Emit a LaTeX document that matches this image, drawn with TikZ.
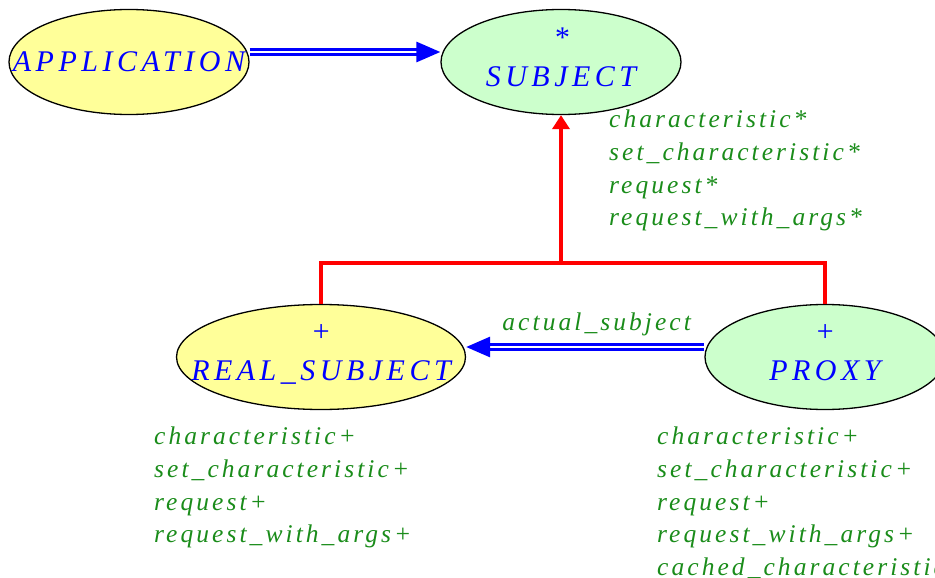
\documentclass[tikz,border=0pt]{standalone}
\usepackage{fontspec}
\setmainfont{Liberation Serif}
\newfontfamily\clsfont[LetterSpace=15]{Liberation Serif}
\newfontfamily\featfont[LetterSpace=12]{Liberation Serif}
\definecolor{deferred}{HTML}{CCFFCC}
\definecolor{effective}{HTML}{FFFF99}
\definecolor{featgreen}{HTML}{1A8C1A}
\usetikzlibrary{arrows.meta, shapes.geometric}

\begin{document}
\begin{tikzpicture}[x=1pt, y=-1pt,
  cls/.style={ellipse, draw=black, line width=1.3pt, inner sep=0pt},
  clsname/.style={text=blue, align=center, inner sep=0pt,
    font=\clsfont\itshape\fontsize{30}{39}\selectfont},
  feat/.style={text=featgreen, align=left, inner sep=0pt, anchor=north west,
    font=\featfont\itshape\fontsize{25.5}{32.6}\selectfont},
  client/.style={draw=blue, line width=3pt, double=white, double distance=2pt,
    -{Triangle[length=24pt,width=20pt]}},
  inherit/.style={draw=red, line width=4pt}]
  \useasboundingbox (0,0) rectangle (935,578);
  % Classes: deferred (green) and effective (yellow).
  \node[cls, fill=effective, minimum width=240pt, minimum height=105pt,
    label={[clsname, name=appname]center:APPLICATION}] (app) at (129,62) {};
  \node[cls, fill=deferred, minimum width=240pt, minimum height=105pt,
    label={[clsname, name=subjname, text depth=9pt]center:{*\\SUBJECT}}] (subj) at (561,62) {};
  \node[cls, fill=effective, minimum width=289pt, minimum height=105pt,
    label={[clsname, name=realname, text depth=9pt]center:{+\\REAL\_SUBJECT}}] (real) at (321,357) {};
  \node[cls, fill=deferred, minimum width=240pt, minimum height=105pt,
    label={[clsname, name=proxyname, text depth=9pt]center:{+\\PROXY}}] (proxy) at (825,357) {};
  % Feature lists under each class.
  \node[feat] (subjfeat) at (609,110) {characteristic*\\set\_characteristic*\\request*\\request\_with\_args*};
  \node[feat] (realfeat) at (154,427) {characteristic+\\set\_characteristic+\\request+\\request\_with\_args+};
  \node[feat] (proxyfeat) at (657,427) {characteristic+\\set\_characteristic+\\request+\\request\_with\_args+\\cached\_characteristic+};
  % Client links.
  \draw[client] ([yshift=10pt]app.east) -- ([yshift=10pt]subj.west);
  \draw[client] ([yshift=10pt]proxy.west) --
    node[pos=0.452, anchor=south, yshift=10pt, inner sep=0pt, text=featgreen,
      font=\featfont\itshape\fontsize{25.5}{32.6}\selectfont] (actual) {actual\_subject}
    ([yshift=10pt]real.east);
  % Inheritance fork.
  \coordinate (fork) at (561,263);
  \draw[inherit] (real.north) |- (fork) -| (proxy.north);
  \draw[inherit, -{Triangle[length=14pt,width=17pt]}] (fork) -- (subj.south);
\end{tikzpicture}
\end{document}
